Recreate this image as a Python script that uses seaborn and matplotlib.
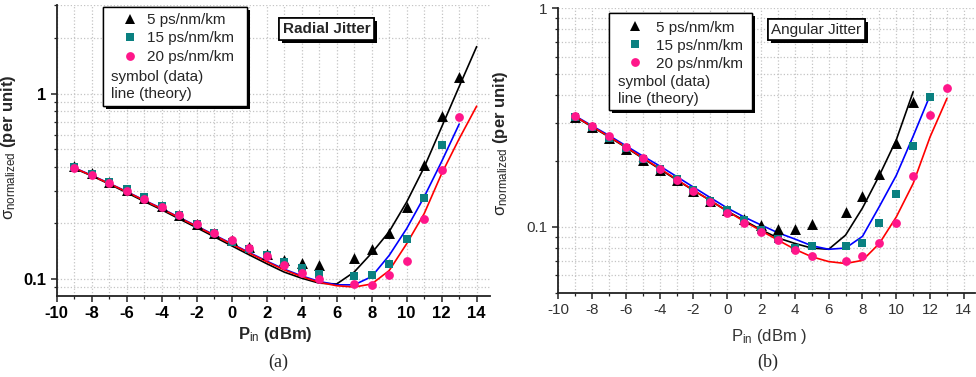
import numpy as np
import matplotlib
matplotlib.use('Agg')
import matplotlib.pyplot as plt
import pandas as pd
import seaborn as sns
from matplotlib import patheffects as pe
from matplotlib.lines import Line2D
from matplotlib.patches import Rectangle
from matplotlib.ticker import LogLocator, MultipleLocator, FuncFormatter, NullFormatter

# ---- data ----
series = ['5 ps/nm/km', '15 ps/nm/km', '20 ps/nm/km']

# (a) radial jitter, measured
rad_x_5 = [-9, -8, -7, -6, -5, -4, -3, -2, -1, 0, 1, 2, 3, 4, 5, 7, 8, 9, 10, 11, 12, 13]
rad_y_5 = [0.407, 0.375, 0.334, 0.303, 0.275, 0.247, 0.221, 0.197, 0.178, 0.162, 0.148,
           0.137, 0.127, 0.122, 0.119, 0.129, 0.146, 0.176, 0.245, 0.41, 0.755, 1.23]
rad_x_15 = [-9, -8, -7, -6, -5, -4, -3, -2, -1, 0, 1, 2, 3, 4, 5, 7, 8, 9, 10, 11, 12]
rad_y_15 = [0.40, 0.37, 0.334, 0.307, 0.277, 0.247, 0.221, 0.197, 0.178, 0.159, 0.146,
            0.134, 0.124, 0.114, 0.106, 0.104, 0.105, 0.121, 0.165, 0.275, 0.531]
rad_x_20 = [-9, -8, -7, -6, -5, -4, -3, -2, -1, 0, 1, 2, 3, 4, 5, 7, 8, 9, 10, 11, 12, 13]
rad_y_20 = [0.397, 0.362, 0.330, 0.298, 0.271, 0.245, 0.221, 0.199, 0.178, 0.162, 0.147,
            0.133, 0.119, 0.108, 0.100, 0.094, 0.093, 0.105, 0.125, 0.210, 0.386, 0.743]

# (a) radial jitter, theory
rad_tx_5 = list(range(-9, 15))
rad_ty_5 = [0.395, 0.36, 0.325, 0.292, 0.262, 0.236, 0.211, 0.189, 0.169, 0.151, 0.135, 0.121,
            0.109, 0.101, 0.095, 0.094, 0.109, 0.138, 0.18, 0.26, 0.40, 0.66, 1.09, 1.79]
rad_tx_15 = list(range(-9, 14))
rad_ty_15 = [0.398, 0.362, 0.328, 0.296, 0.266, 0.240, 0.215, 0.193, 0.173, 0.155, 0.139, 0.125,
             0.113, 0.104, 0.097, 0.093, 0.093, 0.103, 0.134, 0.187, 0.277, 0.43, 0.684]
rad_tx_20 = list(range(-9, 15))
rad_ty_20 = [0.397, 0.361, 0.327, 0.295, 0.265, 0.239, 0.214, 0.192, 0.172, 0.154, 0.138, 0.124,
             0.112, 0.103, 0.096, 0.092, 0.0905, 0.094, 0.111, 0.155, 0.225, 0.37, 0.57, 0.855]

# (b) angular jitter, measured
ang_x_5 = [-9, -8, -7, -6, -5, -4, -3, -2, -1, 0, 1, 2, 3, 4, 5, 7, 8, 9, 10, 11]
ang_y_5 = [0.317, 0.285, 0.254, 0.227, 0.203, 0.183, 0.164, 0.146, 0.131, 0.119, 0.109,
           0.102, 0.0976, 0.098, 0.103, 0.117, 0.139, 0.175, 0.241, 0.371]
ang_x_15 = [-9, -8, -7, -6, -5, -4, -3, -2, -1, 0, 1, 2, 3, 4, 5, 7, 8, 9, 10, 11, 12]
ang_y_15 = [0.317, 0.287, 0.256, 0.229, 0.205, 0.184, 0.165, 0.147, 0.131, 0.120, 0.108,
            0.097, 0.088, 0.080, 0.0815, 0.082, 0.084, 0.104, 0.141, 0.234, 0.394]
ang_x_20 = [-9, -8, -7, -6, -5, -4, -3, -2, -1, 0, 1, 2, 3, 4, 5, 7, 8, 9, 10, 11, 12, 13]
ang_y_20 = [0.321, 0.289, 0.260, 0.232, 0.206, 0.184, 0.164, 0.146, 0.130, 0.116, 0.104,
            0.0949, 0.0869, 0.0788, 0.0734, 0.0699, 0.0736, 0.0845, 0.104, 0.171, 0.325, 0.43]

# (b) angular jitter, theory
ang_tx_5 = list(range(-9, 12))
ang_ty_5 = [0.319, 0.287, 0.258, 0.231, 0.206, 0.184, 0.164, 0.147, 0.132, 0.118, 0.107,
            0.097, 0.089, 0.084, 0.080, 0.079, 0.0917, 0.122, 0.172, 0.25, 0.415]
ang_tx_15 = list(range(-9, 13))
ang_ty_15 = [0.322, 0.29, 0.262, 0.235, 0.211, 0.19, 0.17, 0.152, 0.136, 0.122, 0.111,
             0.102, 0.094, 0.088, 0.082, 0.079, 0.080, 0.0905, 0.124, 0.172, 0.26, 0.40]
ang_tx_20 = list(range(-9, 14))
ang_ty_20 = [0.320, 0.288, 0.259, 0.232, 0.207, 0.185, 0.165, 0.147, 0.132, 0.118, 0.106,
             0.096, 0.087, 0.079, 0.073, 0.0694, 0.068, 0.0703, 0.084, 0.111, 0.158, 0.258, 0.387]

marker_colors = {'5 ps/nm/km': 'black', '15 ps/nm/km': '#0a8080', '20 ps/nm/km': '#ff168a'}
line_colors = {'5 ps/nm/km': 'black', '15 ps/nm/km': '#0000ff', '20 ps/nm/km': '#ff0000'}
markers = {'5 ps/nm/km': '^', '15 ps/nm/km': 's', '20 ps/nm/km': 'o'}
msizes = {'5 ps/nm/km': 62, '15 ps/nm/km': 30, '20 ps/nm/km': 40}


def long_df(xs, ys):
    parts = [pd.DataFrame({'x': x, 'y': y, 'D': s}) for s, x, y in zip(series, xs, ys)]
    return pd.concat(parts, ignore_index=True)


rad_meas = long_df([rad_x_5, rad_x_15, rad_x_20], [rad_y_5, rad_y_15, rad_y_20])
rad_theo = long_df([rad_tx_5, rad_tx_15, rad_tx_20], [rad_ty_5, rad_ty_15, rad_ty_20])
ang_meas = long_df([ang_x_5, ang_x_15, ang_x_20], [ang_y_5, ang_y_15, ang_y_20])
ang_theo = long_df([ang_tx_5, ang_tx_15, ang_tx_20], [ang_ty_5, ang_ty_15, ang_ty_20])

sns.set_style('ticks')
plt.rcParams['font.family'] = ['Liberation Sans', 'DejaVu Sans']
plt.rcParams['mathtext.fontset'] = 'custom'
plt.rcParams['mathtext.rm'] = 'Liberation Sans'
plt.rcParams['mathtext.it'] = 'Liberation Sans:italic'
plt.rcParams['mathtext.bf'] = 'Liberation Sans:bold'

fig = plt.figure(figsize=(9.76, 3.77), dpi=100)
ax1 = fig.add_axes([0.0581, 0.2149, 0.4439, 0.7718])
ax2 = fig.add_axes([0.572, 0.2236, 0.427, 0.7544])

shadow = [pe.withSimplePatchShadow(offset=(2.2, -2.2), shadow_rgbFace='black', alpha=1.0), pe.Normal()]


def draw_panel(ax, meas, theo, ylim, xmax, bold, title, tbold, box, leg_anchor, pad, lspace, extra):
    sns.lineplot(data=theo, x='x', y='y', hue='D', palette=line_colors, ax=ax,
                 legend=False, lw=1.2, sort=True, zorder=3)
    for s in series:
        sns.scatterplot(data=meas[meas['D'] == s], x='x', y='y', color=marker_colors[s],
                        marker=markers[s], s=msizes[s], linewidth=0, ax=ax, zorder=4)
    ax.set_yscale('log')
    ax.set_ylim(*ylim)
    ax.set_xlim(-10, xmax)
    ax.xaxis.set_major_locator(MultipleLocator(2))
    ax.xaxis.set_minor_locator(MultipleLocator(1))
    ax.yaxis.set_major_locator(LogLocator(base=10))
    ax.yaxis.set_minor_locator(LogLocator(base=10, subs=np.arange(2, 10)))
    ax.yaxis.set_major_formatter(FuncFormatter(lambda v, p: f'{v:g}'))
    ax.yaxis.set_minor_formatter(NullFormatter())
    ax.xaxis.set_major_formatter(FuncFormatter(lambda v, p: f'{v:g}'))
    ax.grid(True, which='both', ls=':', color='#c4c4c4', lw=0.9)
    for side in ['top', 'right']:
        ax.spines[side].set_visible(False)
    for side in ['left', 'bottom']:
        ax.spines[side].set_linewidth(1.3)
        ax.spines[side].set_color('#222222')
    wt = 'bold' if bold else 'normal'
    ax.tick_params(which='major', direction='out', length=4, width=1.1, colors='#222222',
                   labelsize=12 if bold else 11, labelcolor='black' if bold else '#333333')
    ax.tick_params(which='minor', direction='out', length=2.5, width=0.9, colors='#222222')
    for lab in ax.get_xticklabels() + ax.get_yticklabels():
        lab.set_fontweight(wt)
    if bold:
        ax.set_xlabel(r'P$_{\rm in}$ (dBm)', fontsize=12, fontweight='bold')
    else:
        ax.set_xlabel(r'P$_{\rm in}$ (dBm )', fontsize=12, color='#333333')
    ax.set_ylabel(r'σ$_{\rm normalized}$ $\bf{(per\ unit)}$', fontsize=12)

    # legend box with hard shadow
    rect = Rectangle((box[0], box[1]), box[2] - box[0], box[3] - box[1], transform=ax.transAxes,
                     fc='white', ec='black', lw=1.0, zorder=6, clip_on=False)
    rect.set_path_effects(shadow)
    ax.add_patch(rect)
    handles = [Line2D([], [], ls='none', marker=markers[s], color=marker_colors[s],
                      markersize=np.sqrt(msizes[s]), markeredgewidth=0) for s in series]
    leg = ax.legend(handles, series, loc='upper left', bbox_to_anchor=leg_anchor, frameon=False,
                    handlelength=1.0, handletextpad=pad, labelspacing=lspace, borderpad=0,
                    borderaxespad=0, fontsize=11)
    leg.set_zorder(7)
    for txt, (tx, ty) in zip(['symbol (data)', 'line (theory)'], extra):
        ax.text(tx, ty, txt, transform=ax.transAxes, fontsize=11, va='center', ha='left', zorder=8)

    t = ax.text(title[0], title[1], title[2], transform=ax.transAxes, fontsize=11,
                fontweight='bold' if tbold else 'normal', ha='center', va='center', zorder=8,
                bbox=dict(boxstyle='square,pad=0.25', fc='white', ec='black', lw=1.2))
    t.get_bbox_patch().set_path_effects(shadow)


draw_panel(ax1, rad_meas, rad_theo, (0.081, 3.0), 14.76, True,
           (0.623, 0.918, 'Radial Jitter'), True,
           (0.1076, 0.653, 0.4385, 0.992), (0.1523, 0.973), 0.6, 0.3,
           [(0.1253, 0.754), (0.1253, 0.693)])
draw_panel(ax2, ang_meas, ang_theo, (0.05, 1.0), 14.66, False,
           (0.6195, 0.925, 'Angular Jitter'), False,
           (0.1224, 0.6424, 0.4641, 0.9824), (0.1649, 0.957), 0.93, 0.27,
           [(0.1425, 0.741), (0.1425, 0.681)])

ax1.yaxis.set_label_coords(-0.0893, 0.512)
ax1.xaxis.set_label_coords(0.504, -0.1)
ax2.yaxis.set_label_coords(-0.116, 0.524)
ax2.xaxis.set_label_coords(0.5056, -0.12)

fig.text(278 / 976, 1 - 362 / 377, '(a)', family='Liberation Serif', fontsize=13, ha='center', va='center')
fig.text(768 / 976, 1 - 362 / 377, '(b)', family='Liberation Serif', fontsize=13, ha='center', va='center')

fig.savefig('out.png', dpi=100)
